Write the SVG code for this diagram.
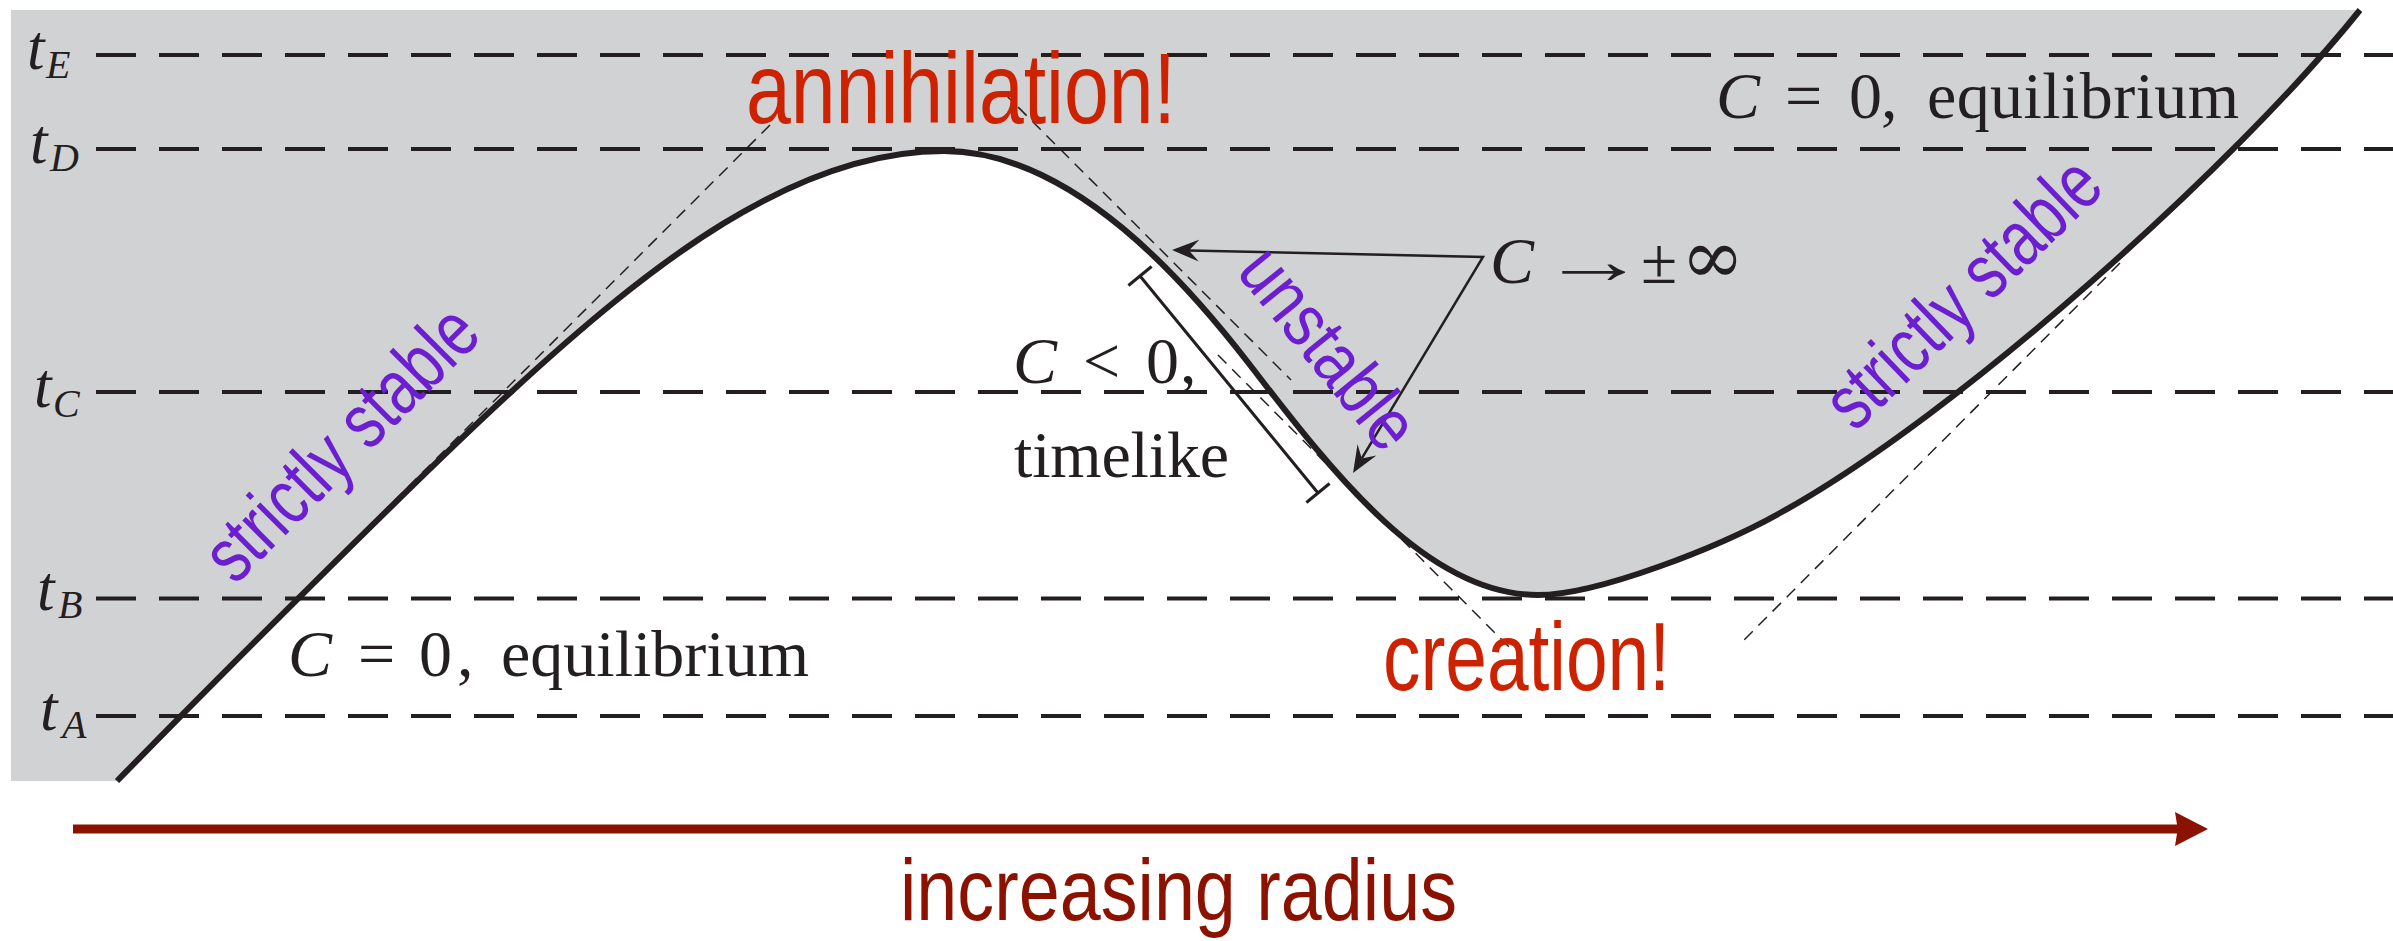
<svg xmlns="http://www.w3.org/2000/svg" width="2393" height="941" viewBox="0 0 2393 941">
<style>
.hdash{stroke:#231f20;stroke-width:4;stroke-dasharray:40 23;fill:none}
.null{stroke:#231f20;stroke-width:1.5;stroke-dasharray:12 8;fill:none}
.curve{stroke:#231f20;stroke-width:6;fill:none}
.thin{stroke:#231f20;stroke-width:2.5;fill:none}
.math{font-family:"Liberation Serif","Times New Roman",serif;font-size:66px;fill:#231f20}
.sym{font-family:"DejaVu Serif","Liberation Serif",serif;font-size:76px}
.it{font-style:italic}
.tl{font-size:63px}
.sub{font-size:40px}
.red{font-family:"Liberation Sans Narrow","Liberation Sans",Arial,sans-serif;fill:#cc2200}
.purple{font-family:"Liberation Sans Narrow","Liberation Sans",Arial,sans-serif;fill:#6c1fd0}
.axis{font-family:"Liberation Sans Narrow","Liberation Sans",Arial,sans-serif;fill:#8b1200}
</style>
<defs>
<marker id="ah" markerUnits="userSpaceOnUse" markerWidth="30" markerHeight="24" viewBox="0 -12 30 24" refX="10" refY="0" orient="auto-start-reverse">
<path d="M27,0 L0,-11 L10,0 L0,11 Z" fill="#231f20"/>
</marker>
</defs>

<g id="region">
<path fill="#d1d2d4" d="M11,10 L11,781 L117,781 C208,688 414,481 510,393 C650,264 794,151 944,151 C1074,151 1189,286 1250,365 C1335,476 1428,595 1538,595 C1598,595 1719,547 1780,513 C1955,417 2235,166 2360,10 Z"/>
</g>

<g id="time-slices">
<line class="hdash" x1="96" y1="55" x2="2393" y2="55"/>
<line class="hdash" x1="96" y1="149" x2="2393" y2="149"/>
<line class="hdash" x1="96" y1="392" x2="2393" y2="392"/>
<line class="hdash" x1="96" y1="598.5" x2="2393" y2="598.5"/>
<line class="hdash" x1="96" y1="716" x2="2393" y2="716"/>
</g>

<g id="null-lines">
<line class="null" x1="770" y1="125" x2="296" y2="599"/>
<line class="null" x1="1004" y1="93" x2="1291" y2="380"/>
<line class="null" x1="1218" y1="355" x2="1512" y2="650"/>
<line class="null" x1="2120" y1="263" x2="1742" y2="642"/>
</g>

<g id="worldline">
<path class="curve" d="M117,781 C208,688 414,481 510,393 C650,264 794,151 944,151 C1074,151 1189,286 1250,365 C1335,476 1428,595 1538,595 C1598,595 1719,547 1780,513 C1955,417 2235,166 2360,10"/>
</g>

<g id="connectors">
<path class="thin" d="M1189,250.4 L1483,257 L1361.8,458.4" marker-start="url(#ah)" marker-end="url(#ah)"/>
<path id="bracket" stroke="#231f20" stroke-width="3" fill="none" d="M1140,276 L1318,493 M1128.4,285.5 L1151.6,266.5 M1306.4,502.5 L1329.6,483.5"/>
</g>

<g id="labels-t">
<text class="math it tl" x="27" y="69">t</text><text class="math it sub" x="46" y="78">E</text>
<text class="math it tl" x="30" y="163">t</text><text class="math it sub" x="50" y="171">D</text>
<text class="math it tl" x="34" y="407">t</text><text class="math it sub" x="53" y="417">C</text>
<text class="math it tl" x="37" y="610">t</text><text class="math it sub" x="58" y="618">B</text>
<text class="math it tl" x="40" y="730">t</text><text class="math it sub" x="62" y="738">A</text>
</g>

<g id="eq-top">
<text class="math" y="118"><tspan class="it" x="1716">C</tspan><tspan x="1785">=</tspan><tspan x="1849">0</tspan><tspan x="1881">,</tspan><tspan x="1927" textLength="312">equilibrium</tspan></text>
</g>
<g id="eq-bottom">
<text class="math" y="676"><tspan class="it" x="288">C</tspan><tspan x="358">=</tspan><tspan x="419">0</tspan><tspan x="457">,</tspan><tspan x="501" textLength="308">equilibrium</tspan></text>
</g>
<g id="timelike">
<text class="math" y="383"><tspan class="it" x="1013">C</tspan><tspan x="1083">&lt;</tspan><tspan x="1146">0</tspan><tspan x="1180">,</tspan></text>
<text class="math" x="1014" y="477" textLength="215">timelike</text>
</g>
<g id="infinity">
<text class="math" y="283"><tspan class="it" x="1490">C</tspan><tspan x="1541" textLength="106" lengthAdjust="spacingAndGlyphs">→</tspan><tspan x="1641">±</tspan><tspan class="sym" x="1681">∞</tspan></text>
</g>

<g id="events">
<text class="red" x="746" y="123" font-size="100" textLength="430" lengthAdjust="spacingAndGlyphs">annihilation!</text>
<text class="red" x="1383" y="690" font-size="97" textLength="287" lengthAdjust="spacingAndGlyphs">creation!</text>
</g>

<g id="stability">
<text class="purple" transform="translate(235,586) rotate(-45)" x="0" y="0" font-size="78" textLength="352" lengthAdjust="spacingAndGlyphs">strictly stable</text>
<text class="purple" transform="translate(1855,433) rotate(-44)" x="0" y="0" font-size="78" textLength="350" lengthAdjust="spacingAndGlyphs">strictly stable</text>
<text class="purple" transform="translate(1235,272) rotate(51)" x="0" y="0" font-size="74" textLength="236" lengthAdjust="spacingAndGlyphs">unstable</text>
</g>

<g id="radius-axis">
<path fill="#8b1200" d="M73,824.5 L2177,824.5 L2175,812 L2208,829 L2175,846 L2177,833.5 L73,833.5 Z"/>
<text class="axis" x="900" y="920" font-size="88" textLength="557" lengthAdjust="spacingAndGlyphs">increasing radius</text>
</g>
</svg>
